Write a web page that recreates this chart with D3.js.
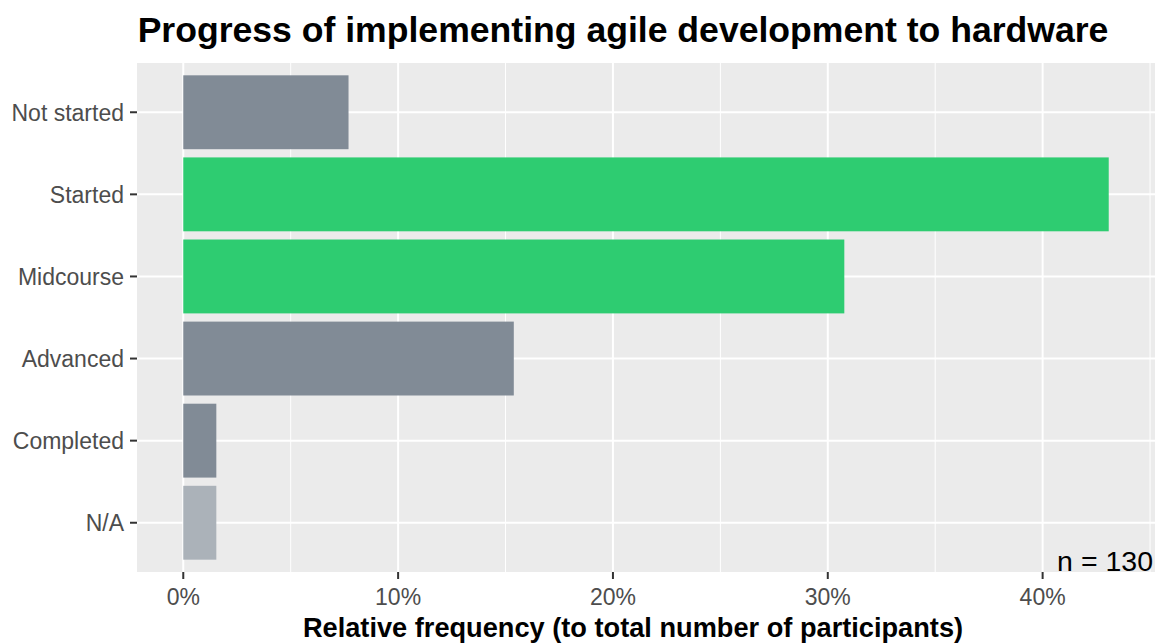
<!DOCTYPE html>
<html>
<head>
<meta charset="utf-8">
<script src="https://cdn.jsdelivr.net/npm/d3@7"></script>
<style>
  body { margin: 0; background: #fff; }
  text { font-family: "Liberation Sans", Arial, sans-serif; }
</style>
</head>
<body>
<div id="chart"></div>
<script>
// answers per stage, out of n = 130
var categories = ["Not started", "Started", "Midcourse", "Advanced", "Completed", "N/A"];
var counts = [10, 56, 40, 20, 2, 2];
var barColors = ["#818b96", "#2ecc71", "#2ecc71", "#818b96", "#818b96", "#abb2b9"];
var xTicks = [0, 0.1, 0.2, 0.3, 0.4];
var xMinor = [0.05, 0.15, 0.25, 0.35, 0.45];

var total = d3.sum(counts);
var freq = counts.map(function(c) { return c / total; });

var width = 1158, height = 644;
var margin = {top: 63, right: 3, bottom: 72, left: 137};
var pw = width - margin.left - margin.right,
    ph = height - margin.top - margin.bottom;

var svg = d3.select("#chart").append("svg")
    .attr("width", width)
    .attr("height", height);

// ggplot style expansion: 5% on continuous, 0.6 units on discrete
var maxF = d3.max(freq);
var x = d3.scaleLinear()
    .domain([-maxF * 0.05, maxF * 1.05])
    .range([0, pw]);

var unit = ph / (categories.length - 1 + 1.2);
var yPos = function(i) { return (0.6 + i) * unit; };
var barH = unit * 0.9;

var g = svg.append("g")
    .attr("transform", "translate(" + margin.left + "," + margin.top + ")");

g.append("rect")
    .attr("width", pw)
    .attr("height", ph)
    .attr("fill", "#ebebeb");

// minor grid
g.selectAll("line.minor")
    .data(xMinor.filter(function(d) { return x(d) < pw; }))
  .enter().append("line")
    .attr("class", "minor")
    .attr("x1", function(d) { return x(d); })
    .attr("x2", function(d) { return x(d); })
    .attr("y1", 0).attr("y2", ph)
    .attr("stroke", "#fff").attr("stroke-width", 1);

// major grid
g.selectAll("line.vmajor")
    .data(xTicks)
  .enter().append("line")
    .attr("class", "vmajor")
    .attr("x1", function(d) { return x(d); })
    .attr("x2", function(d) { return x(d); })
    .attr("y1", 0).attr("y2", ph)
    .attr("stroke", "#fff").attr("stroke-width", 2);

g.selectAll("line.hmajor")
    .data(categories)
  .enter().append("line")
    .attr("class", "hmajor")
    .attr("x1", 0).attr("x2", pw)
    .attr("y1", function(d, i) { return yPos(i); })
    .attr("y2", function(d, i) { return yPos(i); })
    .attr("stroke", "#fff").attr("stroke-width", 2);

// bars
g.selectAll("rect.bar")
    .data(freq)
  .enter().append("rect")
    .attr("class", "bar")
    .attr("x", x(0))
    .attr("y", function(d, i) { return yPos(i) - barH / 2; })
    .attr("width", function(d) { return x(d) - x(0); })
    .attr("height", barH)
    .attr("fill", function(d, i) { return barColors[i]; });

// x axis
var xAxis = g.append("g")
    .attr("transform", "translate(0," + ph + ")");
xAxis.selectAll("line")
    .data(xTicks)
  .enter().append("line")
    .attr("x1", function(d) { return x(d); })
    .attr("x2", function(d) { return x(d); })
    .attr("y1", 0).attr("y2", 7)
    .attr("stroke", "#333").attr("stroke-width", 2);
xAxis.selectAll("text")
    .data(xTicks)
  .enter().append("text")
    .attr("x", function(d) { return x(d); })
    .attr("y", 33)
    .attr("text-anchor", "middle")
    .attr("fill", "#4d4d4d")
    .style("font-size", "23px")
    .text(d3.format(".0%"));

// y axis
var yAxis = g.append("g");
yAxis.selectAll("line")
    .data(categories)
  .enter().append("line")
    .attr("x1", -7).attr("x2", 0)
    .attr("y1", function(d, i) { return yPos(i); })
    .attr("y2", function(d, i) { return yPos(i); })
    .attr("stroke", "#333").attr("stroke-width", 2);
yAxis.selectAll("text")
    .data(categories)
  .enter().append("text")
    .attr("x", -13)
    .attr("y", function(d, i) { return yPos(i); })
    .attr("dy", "0.36em")
    .attr("text-anchor", "end")
    .attr("fill", "#4d4d4d")
    .style("font-size", "23px")
    .text(function(d) { return d; });

// n label
g.append("text")
    .attr("x", pw - 2)
    .attr("y", ph - 1)
    .attr("text-anchor", "end")
    .attr("fill", "#000")
    .style("font-size", "28.5px")
    .text("n = " + total);

// titles
svg.append("text")
    .attr("x", 623)
    .attr("y", 42)
    .attr("text-anchor", "middle")
    .style("font-size", "35.6px")
    .style("font-weight", "bold")
    .text("Progress of implementing agile development to hardware");

svg.append("text")
    .attr("x", 633)
    .attr("y", 637)
    .attr("text-anchor", "middle")
    .style("font-size", "27.2px")
    .style("font-weight", "bold")
    .text("Relative frequency (to total number of participants)");
</script>
</body>
</html>
